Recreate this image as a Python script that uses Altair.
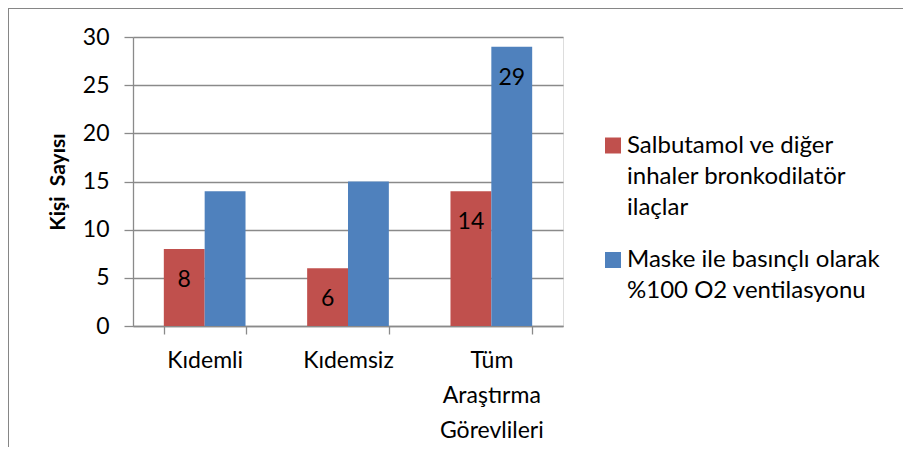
import altair as alt
import pandas as pd

categories = ["Kıdemli", "Kıdemsiz", "Tüm Araştırma Görevlileri"]
series = [
    "Salbutamol ve diğer\ninhaler bronkodilatör\nilaçlar",
    "Maske ile basınçlı olarak\n%100 O2 ventilasyonu",
]
salbutamol = [8, 6, 14]
maske = [14, 15, 29]
salbutamol_labels = ["8", "6", "14"]
maske_labels = ["", "", "29"]
colors = ["#C0504D", "#4F81BD"]
y_ticks = [0, 5, 10, 15, 20, 25, 30]

rows = []
for i, c in enumerate(categories):
    rows.append({"cat": c, "series": series[0], "value": salbutamol[i], "label": salbutamol_labels[i]})
    rows.append({"cat": c, "series": series[1], "value": maske[i], "label": maske_labels[i]})
df = pd.DataFrame(rows)

FONT = "Lato"
GRID = "#8a8a8a"
FS = 23
LEG_FS = 24

color_scale = alt.Scale(domain=series, range=colors)

x_enc = alt.X(
    "cat:N",
    sort=categories,
    title=None,
    scale=alt.Scale(paddingInner=0.43, paddingOuter=0.215),
    axis=alt.Axis(
        labelExpr="split(datum.label, ' ')",
        labelAngle=0,
        labelFontSize=FS,
        labelLineHeight=35,
        labelPadding=15,
        tickBand="extent",
        tickSize=8,
        tickColor=GRID,
        tickWidth=1.3,
        domainColor=GRID,
        domainWidth=1.3,
        labelColor="#000000",
        labelFont=FONT,
        grid=False,
    ),
)
y_enc = alt.Y(
    "value:Q",
    title="Kişi\u00a0 Sayısı",
    scale=alt.Scale(domain=[0, 30], nice=False),
    axis=alt.Axis(
        values=y_ticks,
        labelFontSize=FS,
        labelFont=FONT,
        labelColor="#000000",
        labelPadding=15,
        tickSize=9,
        tickColor=GRID,
        tickWidth=1.3,
        domainColor=GRID,
        domainWidth=1.3,
        gridColor=GRID,
        gridWidth=1.3,
        titleFont=FONT,
        titleFontSize=21,
        titleFontWeight="bold",
        titleColor="#000000",
        titlePadding=14,
    ),
)

base = alt.Chart(df).encode(
    x=x_enc,
    xOffset=alt.XOffset("series:N", sort=series),
)

bars = base.mark_bar().encode(
    y=y_enc,
    color=alt.Color("series:N", sort=series, scale=color_scale, legend=None),
)

texts = base.mark_text(font=FONT, fontSize=FS, dy=31, baseline="middle", color="#000000").encode(
    y="value:Q",
    text="label:N",
)

border = alt.Chart(df).mark_rect(fill=None, stroke="#868686", strokeWidth=1).encode(
    x=alt.value(-124.5), x2=alt.value(800), y=alt.value(-28.5), y2=alt.value(500)
)

# Legend (drawn as marks so the label line spacing can match)
legend_layers = []
legend_rows = [(series[0], 108.5, 116), (series[1], 223, 229.7)]
for name, sq_y, txt_y in legend_rows:
    ldf = pd.DataFrame({"series": [name]})
    sq = alt.Chart(ldf).mark_square(size=256, opacity=1, strokeWidth=0).encode(
        x=alt.value(480), y=alt.value(sq_y),
        color=alt.Color("series:N", scale=color_scale, legend=None),
    )
    tx = alt.Chart(ldf).transform_calculate(
        lines="split(datum.series, '\\n')"
    ).mark_text(
        align="left", baseline="alphabetic", font=FONT, fontSize=LEG_FS,
        lineHeight=31, color="#000000",
    ).encode(x=alt.value(494), y=alt.value(txt_y), text="lines:N")
    legend_layers += [sq, tx]

chart = alt.layer(border, bars, texts, *legend_layers).properties(
    width=430,
    height=289,
    autosize=alt.AutoSizeParams(type="none"),
    padding={"left": 125, "top": 29, "right": 340, "bottom": 121},
).configure_view(stroke=None).configure(background="#ffffff")

chart.save("out.html", embed_options={"renderer": "svg", "actions": False})
